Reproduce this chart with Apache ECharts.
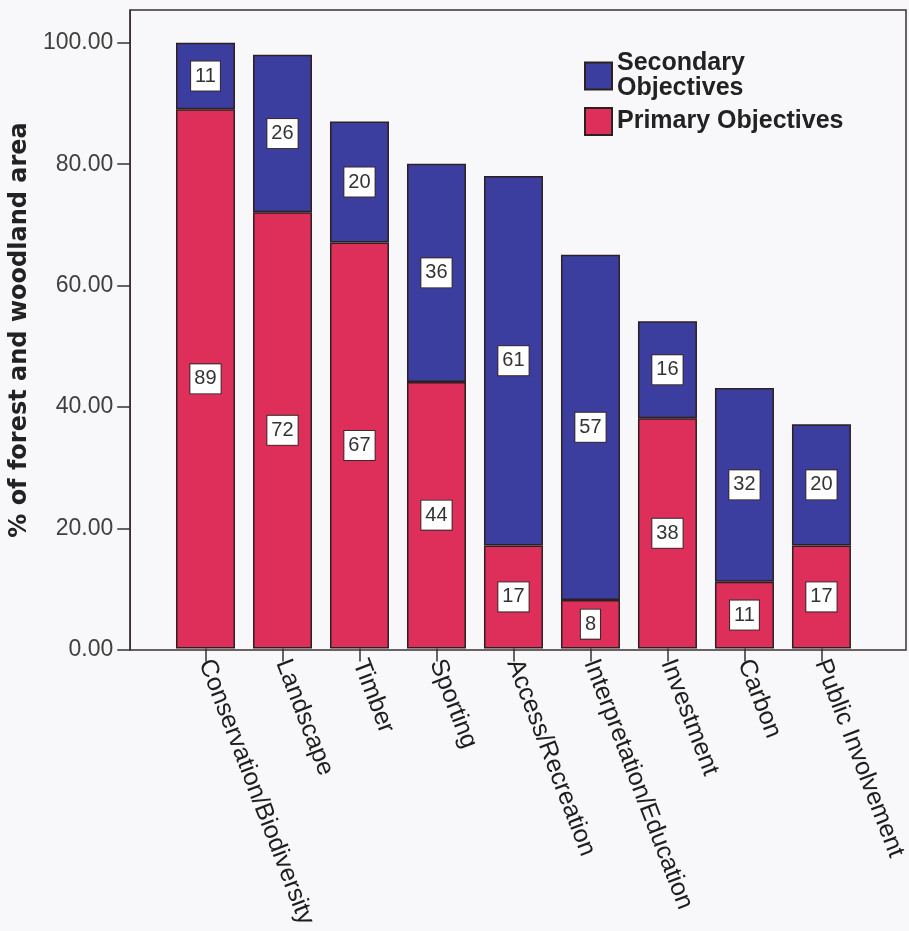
<!DOCTYPE html>
<html>
<head>
<meta charset="utf-8">
<script src="https://cdn.jsdelivr.net/npm/echarts@6/dist/echarts.min.js"></script>
<style>
  html, body { margin: 0; padding: 0; background: #f8f8fa; }
  #chart { width: 909px; height: 931px; }
</style>
</head>
<body>
<div id="chart"></div>
<script>
const categories = ['Conservation/Biodiversity', 'Landscape', 'Timber', 'Sporting',
  'Access/Recreation', 'Interpretation/Education', 'Investment', 'Carbon', 'Public Involvement']
const primary = [89, 72, 67, 44, 17, 8, 38, 11, 17]
const secondary = [11, 26, 20, 36, 61, 57, 16, 32, 20]
const yTicks = [0, 20, 40, 60, 80, 100]

const RED = '#dd2f5a'
const BLUE = '#3b3e9e'
const EDGE = '#2e2020'
const Y_MAX = 105.4

const barLabel = {
  show: true,
  position: 'inside',
  color: '#333',
  fontFamily: 'Liberation Sans',
  fontSize: 20,
  backgroundColor: '#fff',
  borderColor: '#3a2a2a',
  borderWidth: 1,
  padding: [5, 4, 4, 4]
}

const chart = echarts.init(document.getElementById('chart'))
chart.setOption({
  backgroundColor: '#f8f8fa',
  animation: false,
  legend: {
    orient: 'vertical',
    left: 579,
    top: 46,
    itemWidth: 27,
    itemHeight: 27,
    itemGap: 6,
    icon: 'rect',
    data: ['Secondary Objectives', 'Primary Objectives'],
    formatter: name => name === 'Secondary Objectives' ? 'Secondary\nObjectives' : name,
    textStyle: { fontFamily: 'Liberation Sans', fontWeight: 'bold', fontSize: 25, color: '#222', lineHeight: 25 }
  },
  grid: [
    { left: 128, right: 3, top: 10, bottom: 281, show: true, borderColor: '#3a3030', borderWidth: 1.5 },
    { left: 167, right: 42, top: 10, bottom: 281 }
  ],
  xAxis: [
    { gridIndex: 0, type: 'value', min: 0, max: 1, show: false },
    {
      gridIndex: 1,
      type: 'category',
      data: categories,
      axisLine: { show: false },
      axisTick: { show: true, alignWithLabel: true, length: 13, lineStyle: { color: '#3a3030', width: 1.5 } },
      axisLabel: { rotate: -69, margin: 12, fontFamily: 'Liberation Sans', fontSize: 25, color: '#1e1e1e', interval: 0 }
    }
  ],
  yAxis: [
    {
      gridIndex: 0,
      type: 'value',
      min: 0,
      max: Y_MAX,
      name: '% of forest and woodland area',
      nameLocation: 'middle',
      nameGap: 87,
      nameTextStyle: { fontFamily: 'DejaVu Sans', fontWeight: 'bold', fontSize: 24, color: '#222' },
      axisLine: { show: true, lineStyle: { color: '#3a3030', width: 1.5 } },
      axisTick: { show: true, length: 13, customValues: yTicks, lineStyle: { color: '#3a3030', width: 1.5 } },
      axisLabel: { customValues: yTicks, margin: 17, fontFamily: 'Liberation Sans', fontSize: 23, color: '#404040',
        formatter: v => v.toFixed(2) },
      splitLine: { show: false }
    },
    { gridIndex: 1, type: 'value', min: 0, max: Y_MAX, show: false, splitLine: { show: false } }
  ],
  series: [
    {
      name: 'Primary Objectives',
      type: 'bar',
      stack: 'obj',
      xAxisIndex: 1,
      yAxisIndex: 1,
      barWidth: 59,
      data: primary,
      itemStyle: { color: RED, borderColor: EDGE, borderWidth: 1.5 },
      label: barLabel
    },
    {
      name: 'Secondary Objectives',
      type: 'bar',
      stack: 'obj',
      xAxisIndex: 1,
      yAxisIndex: 1,
      barWidth: 59,
      data: secondary,
      itemStyle: { color: BLUE, borderColor: EDGE, borderWidth: 1.5 },
      label: barLabel
    }
  ]
})
</script>
</body>
</html>
